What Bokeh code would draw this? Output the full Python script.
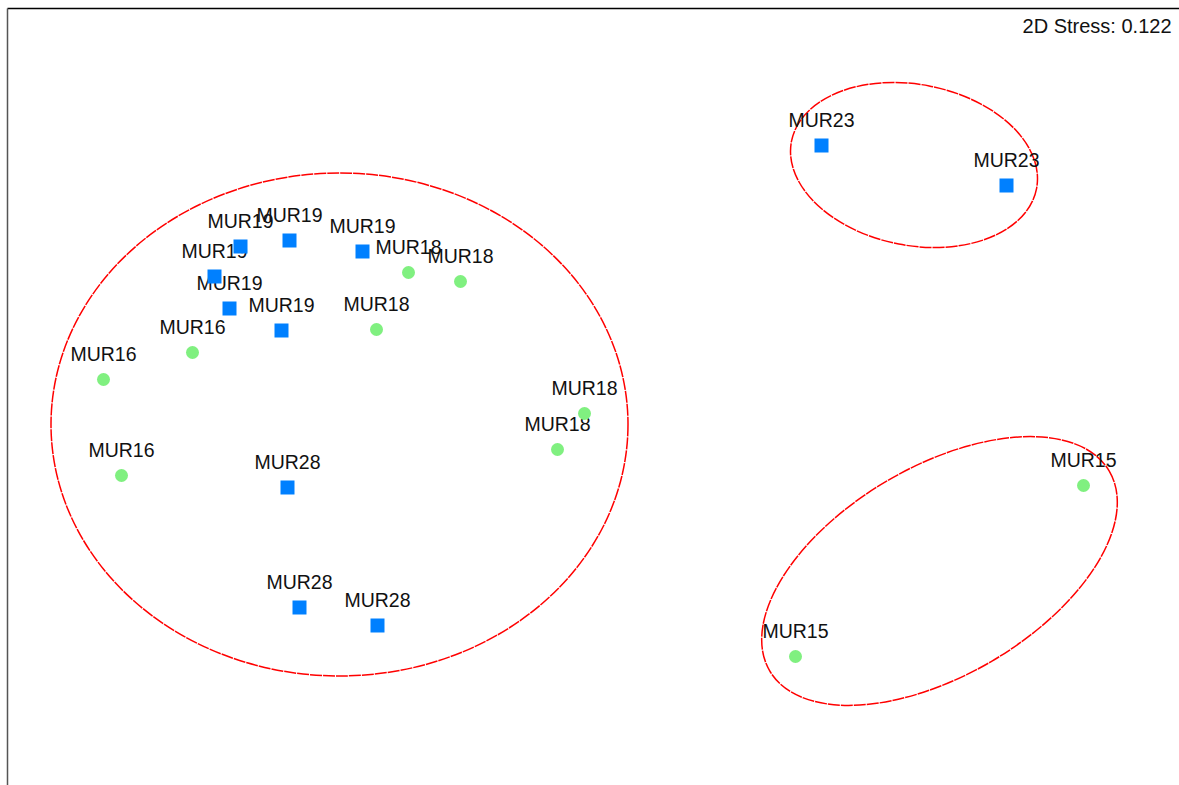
from bokeh.plotting import figure
from bokeh.models import Range1d, FixedTicker, Label, ColumnDataSource
from bokeh.core.properties import value
from bokeh.embed import file_html
from bokeh.resources import INLINE

# NMDS sample coordinates
sq_labels = ["MUR19", "MUR19", "MUR19", "MUR19", "MUR19", "MUR19",
             "MUR28", "MUR28", "MUR28", "MUR23", "MUR23"]
sq_x = [-0.9175, -0.795, -0.6125, -0.9825, -0.945, -0.815,
        -0.80, -0.77, -0.575, 0.535, 0.9975]
sq_y = [0.405, 0.42, 0.3925, 0.33, 0.25, 0.195,
        -0.1975, -0.4975, -0.5425, 0.6575, 0.5575]

ci_labels = ["MUR18", "MUR18", "MUR18", "MUR18", "MUR18",
             "MUR16", "MUR16", "MUR16", "MUR15", "MUR15"]
ci_x = [-0.4975, -0.3675, -0.5775, -0.0575, -0.125,
        -1.0375, -1.26, -1.215, 1.19, 0.47]
ci_y = [0.34, 0.3175, 0.1975, -0.0125, -0.1025,
        0.14, 0.0725, -0.1675, -0.1925, -0.62]

# Similarity contours (ellipses: centre, width, height, angle in radians)
ell_x = [-0.67, 0.76625, 0.83]
ell_y = [-0.04, 0.60875, -0.40625]
ell_w = [1.4425, 0.624, 0.985]
ell_h = [1.2575, 0.4025, 0.5215]
ell_a = [0.0, -0.19, 0.532]

stress_text = "2D Stress: 0.122"

p = figure(width=1179, height=785,
           x_range=Range1d(-1.5, 1.43), y_range=Range1d(-0.9425, 1.0),
           output_backend="svg", toolbar_location=None,
           x_axis_location="above",
           min_border_left=7, min_border_top=8,
           min_border_right=0, min_border_bottom=0)
p.grid.visible = False
p.outline_line_color = None
p.background_fill_color = "white"
p.border_fill_color = "white"

for ax in p.axis:
    ax.ticker = FixedTicker(ticks=[])
    ax.major_tick_line_color = None
    ax.minor_tick_line_color = None
    ax.major_label_text_font_size = "0px"
    ax.major_label_standoff = 0
    ax.axis_line_width = 1.5
p.xaxis.axis_line_color = "black"
p.yaxis.axis_line_color = "#555555"

p.ellipse(x=ell_x, y=ell_y, width=ell_w, height=ell_h, angle=ell_a,
          fill_color=None, line_color="#ff0000", line_width=1.5,
          line_dash="12 1")

sq_src = ColumnDataSource(dict(x=sq_x, y=sq_y, t=sq_labels))
ci_src = ColumnDataSource(dict(x=ci_x, y=ci_y, t=ci_labels))

for src in (sq_src, ci_src):
    p.text(x="x", y="y", text="t", source=src, y_offset=-26,
           text_align="center", text_baseline="alphabetic",
           text_font=value("Liberation Sans"), text_font_size="19.5px",
           text_color="#111111")

p.scatter(x="x", y="y", source=sq_src, marker="square", size=14,
          fill_color="#0080ff", line_color=None)
p.scatter(x="x", y="y", source=ci_src, marker="circle", size=13,
          fill_color="#80f080", line_color=None)

p.add_layout(Label(x=1.41, y=0.9568, text=stress_text,
                   text_align="right", text_baseline="alphabetic",
                   text_font="Liberation Sans", text_font_size="20px",
                   text_color="#111111"))

open("out.html", "w").write(file_html(p, INLINE))
